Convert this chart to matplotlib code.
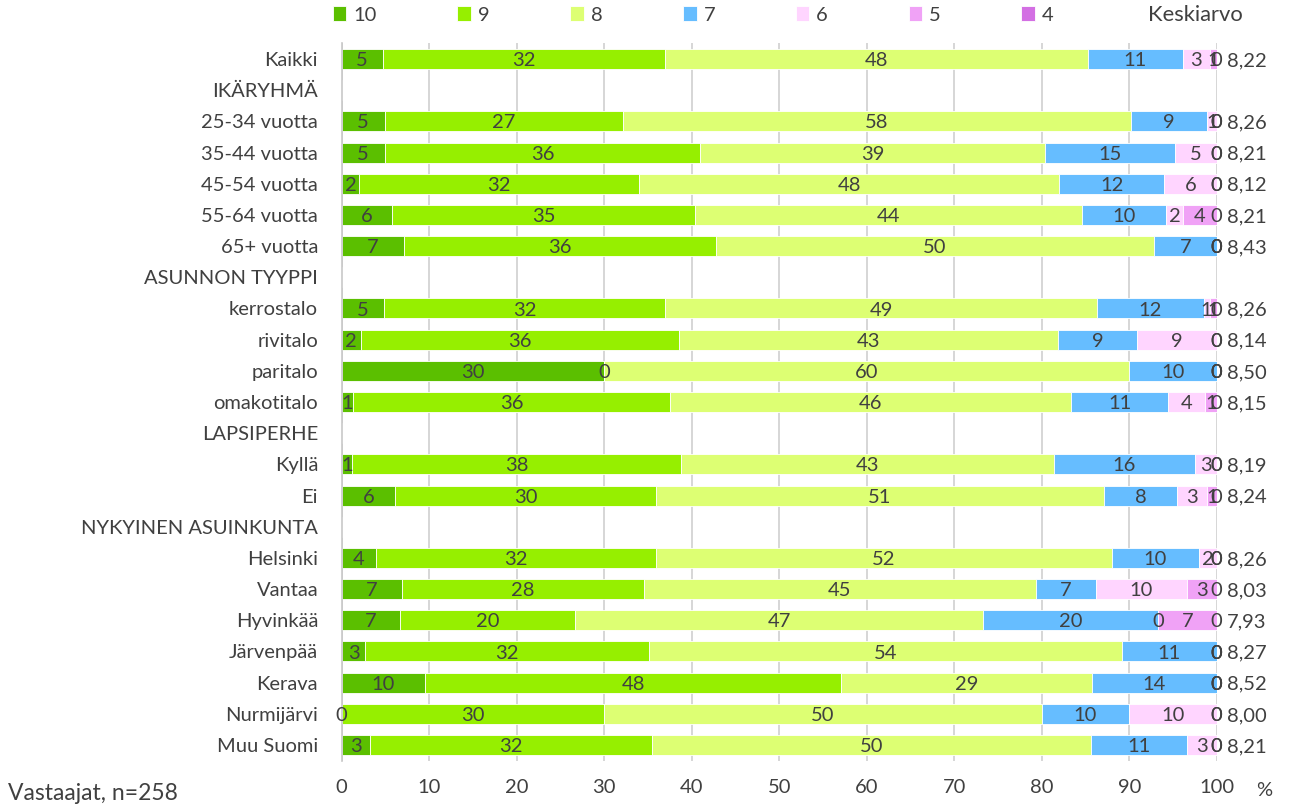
import matplotlib.pyplot as plt
import numpy as np

plt.rcParams['font.family'] = ['Lato', 'DejaVu Sans']

# Rows (headers have no data)
rows = ['Kaikki', 'IKÄRYHMÄ', '25-34 vuotta', '35-44 vuotta', '45-54 vuotta',
        '55-64 vuotta', '65+ vuotta', 'ASUNNON TYYPPI', 'kerrostalo', 'rivitalo',
        'paritalo', 'omakotitalo', 'LAPSIPERHE', 'Kyllä', 'Ei',
        'NYKYINEN ASUINKUNTA', 'Helsinki', 'Vantaa', 'Hyvinkää', 'Järvenpää',
        'Kerava', 'Nurmijärvi', 'Muu Suomi']

categories = ['10', '9', '8', '7', '6', '5', '4']
colors = ['#5bbf00', '#96ef00', '#ddff73', '#66bdff', '#ffd5ff', '#f0a2f6', '#d36fe3']

nan = np.nan
v10 = [4.7, nan, 4.9, 4.9, 2.0, 5.8, 7.1, nan, 4.8, 2.2, 30.0, 1.3, nan, 1.2, 6.1, nan, 3.9, 6.9, 6.7, 2.7, 9.5, 0.0, 3.2]
v9 = [32.2, nan, 27.2, 36.1, 32.0, 34.6, 35.7, nan, 32.2, 36.4, 0.0, 36.2, nan, 37.6, 29.8, nan, 32.0, 27.6, 20.0, 32.4, 47.6, 30.0, 32.3]
v8 = [48.4, nan, 58.1, 39.4, 48.0, 44.2, 50.0, nan, 49.3, 43.3, 60.0, 45.9, nan, 42.6, 51.2, nan, 52.1, 44.8, 46.6, 54.1, 28.6, 50.0, 50.1]
v7 = [10.8, nan, 8.7, 14.8, 12.0, 9.6, 7.2, nan, 12.2, 9.0, 10.0, 11.0, nan, 16.1, 8.4, nan, 10.0, 6.9, 20.0, 10.8, 14.3, 10.0, 11.0]
v6 = [3.1, nan, 1.1, 4.8, 6.0, 2.0, 0.0, nan, 0.7, 9.1, 0.0, 4.3, nan, 2.5, 3.4, nan, 2.0, 10.4, 0.0, 0.0, 0.0, 10.0, 3.4]
v5 = [0.8, nan, 0.0, 0.0, 0.0, 3.8, 0.0, nan, 0.8, 0.0, 0.0, 1.3, nan, 0.0, 1.1, nan, 0.0, 3.4, 6.7, 0.0, 0.0, 0.0, 0.0]
v4 = [0.0, nan, 0.0, 0.0, 0.0, 0.0, 0.0, nan, 0.0, 0.0, 0.0, 0.0, nan, 0.0, 0.0, nan, 0.0, 0.0, 0.0, 0.0, 0.0, 0.0, 0.0]
keskiarvo = ['8,22', '', '8,26', '8,21', '8,12', '8,21', '8,43', '', '8,26', '8,14',
             '8,50', '8,15', '', '8,19', '8,24', '', '8,26', '8,03', '7,93', '8,27',
             '8,52', '8,00', '8,21']

series = [v10, v9, v8, v7, v6, v5, v4]
txt = '#404040'
fs = 14.5

fig = plt.figure(figsize=(12.91, 8.11), dpi=100)
ax = fig.add_axes([341.7 / 1291, 1 - 760.6 / 811, 875 / 1291, 717.2 / 811])

y = np.arange(len(rows))
left = np.zeros(len(rows))
handles = []
for vals, col, cat in zip(series, colors, categories):
    vals = np.array(vals, dtype=float)
    w = np.nan_to_num(vals)
    b = ax.barh(y, w, left=left, height=0.64, color=col, edgecolor='white',
                linewidth=0.6, label=cat, zorder=2)
    handles.append(b)
    for i, v in enumerate(vals):
        if np.isnan(v):
            continue
        ax.text(left[i] + w[i] / 2, i + 0.05, '%d' % np.floor(v + 0.5),
                ha='center', va='center', color=txt, fontsize=fs, zorder=3,
                clip_on=False)
    left = left + w

for i, k in enumerate(keskiarvo):
    if k:
        ax.text(101.2, i + 0.05, k, ha='left', va='center', color=txt,
                fontsize=fs, clip_on=False)

ax.set_xlim(0, 100)
ax.set_ylim(len(rows) - 0.5, -0.5)
ax.set_xticks(np.arange(0, 101, 10))
ax.set_yticks(y)
ax.set_yticklabels(rows)
ax.tick_params(axis='y', length=0, pad=17, labelsize=fs, labelcolor=txt)
ax.tick_params(axis='x', length=0, pad=13, labelsize=fs, labelcolor=txt)
ax.grid(axis='x', color='#d0d0d0', linewidth=1.2, zorder=0)
ax.set_axisbelow(True)
for s in ['top', 'bottom', 'right']:
    ax.spines[s].set_visible(False)
ax.spines['left'].set_color('#c8c8c8')
ax.spines['left'].set_linewidth(1.2)

fig.legend(handles=handles, labels=categories, loc='center left',
           bbox_to_anchor=(333 / 1291, 1 - 15 / 811), ncol=7, frameon=False,
           borderpad=0, borderaxespad=0, handlelength=0.67, handleheight=0.7,
           handletextpad=0.35, columnspacing=4.0, fontsize=fs, labelcolor=txt)
fig.text(1148 / 1291, 1 - 15 / 811, 'Keskiarvo', ha='left', va='center',
         color=txt, fontsize=15.8)
fig.text(1256 / 1291, 1 - 790 / 811, '%', ha='left', va='center', color=txt,
         fontsize=fs)
fig.text(8 / 1291, 1 - 793 / 811, 'Vastaajat, n=258', ha='left', va='center',
         color=txt, fontsize=16.5)

fig.savefig('out.png', dpi=100)
